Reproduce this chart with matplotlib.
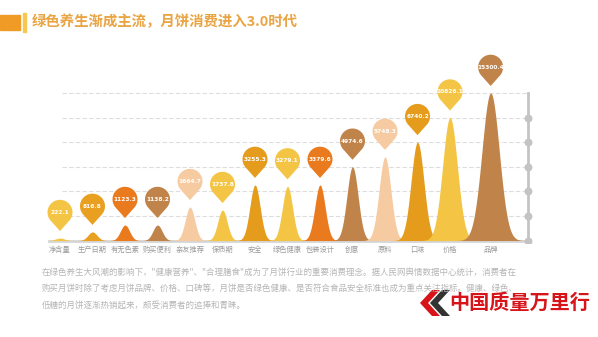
import numpy as np
import matplotlib
matplotlib.use('Agg')
import matplotlib.pyplot as plt
from matplotlib.patches import Polygon
from matplotlib import transforms

plt.rcParams['font.family'] = ['Noto Sans CJK SC', 'DejaVu Sans']

# ── Data ──────────────────────────────────────────────────────────────────────
categories = ['净含量', '生产日期', '有无色素', '购买便利', '亲友推荐', '保质期', '安全',
              '绿色健康', '包装设计', '创意', '原料', '口味', '价格', '品牌']
value_labels = ['222.1', '816.8', '1123.3', '1138.2', '1664.7', '1737.8', '3255.3',
                '3279.1', '3379.6', '4974.6', '5748.3', '6740.2', '10826.1', '15300.4']
# peak heights, in grid units (6 dashed grid steps)
peak_heights = [0.1, 0.35, 0.63, 0.63, 1.36, 1.24, 2.26, 2.2, 2.26, 3.0, 3.4, 4.0, 5.0, 6.0]
colors = ['#F4C545', '#E9A020', '#EA7A1E', '#C0844A', '#F6CBA2', '#F4C545', '#E59C1C',
          '#F4C545', '#EA7A1E', '#C0844A', '#F6CBA2', '#E59C1C', '#F4C545', '#C0844A']

TITLE = '绿色养生渐成主流，月饼消费进入3.0时代'
BODY = ['在绿色养生大风潮的影响下，"健康营养"、"合理膳食"成为了月饼行业的重要消费理念。据人民网舆情数据中心统计，消费者在',
        '购买月饼时除了考虑月饼品牌、价格、口碑等，月饼是否绿色健康、是否符合食品安全标准也成为重点关注指标。健康、绿色、',
        '低糖的月饼逐渐热销起来，颇受消费者的追捧和青睐。']

TITLE_COLOR = '#E9A443'
GRID_COLOR = '#DDDDDD'
AXIS_COLOR = '#C4C4C4'
LABEL_COLOR = '#9A9A9A'

fig = plt.figure(figsize=(5.98, 3.37), dpi=100)
fig.patch.set_facecolor('white')
ax = fig.add_axes([40 / 598, 1 - 243 / 337, 495 / 598, 198 / 337])
ax.set_xlim(-0.615, 14.615)
ax.set_ylim(-0.1, 7.95)
ax.axis('off')

n = len(categories)
x = np.arange(n, dtype=float)
x[-1] += 0.25  # last peak sits a bit further right

axis_x = 14.4

# grid lines + baseline
for g in range(1, 7):
    ax.plot([0.05, axis_x], [g, g], color=GRID_COLOR, lw=0.8, ls=(0, (4, 2)), zorder=1)
ax.plot([-0.35, axis_x], [0, 0], color='#D6D6D6', lw=2, zorder=1)

# right-hand axis with dots
ax.plot([axis_x, axis_x], [0, 6], color=AXIS_COLOR, lw=2, zorder=2)
ax.scatter([axis_x] * 6, range(6), s=22, color=AXIS_COLOR, zorder=3)

# peaks
for xi, h, c in zip(x, peak_heights, colors):
    sig = 0.14 + 0.0035 * h ** 2
    xs = np.linspace(xi - 1.2, xi + 1.2, 300)
    ys = h * np.exp(-0.5 * ((xs - xi) / sig) ** 2)
    ax.fill_between(xs, 0, ys, color=c, lw=0, zorder=4)

# pins (teardrop) above each peak, sized in inches
r = 0.125
gap = 0.07
d = 1.5 * r
phi = np.arccos(r / d)
cy = gap + d
arc = np.linspace(-np.pi / 2 + phi, 3 * np.pi / 2 - phi, 60)
pin = np.vstack([[0, gap], np.column_stack([r * np.cos(arc), cy + r * np.sin(arc)])])

for xi, h, c, lab in zip(x, peak_heights, colors, value_labels):
    tr = fig.dpi_scale_trans + transforms.ScaledTranslation(xi, h, ax.transData)
    ax.add_patch(Polygon(pin, closed=True, facecolor=c, edgecolor='none',
                         transform=tr, zorder=5, clip_on=False))
    ax.annotate(lab, (xi, h), xytext=(0, cy * 72), textcoords='offset points',
                ha='center', va='center', fontsize=4.2, color='white',
                fontweight='bold', zorder=6, family='DejaVu Sans')

# category labels
for xi, cat in zip(x, categories):
    ax.annotate(cat, (xi, 0), xytext=(0, -6.5), textcoords='offset points',
                ha='center', va='center', fontsize=5.2, color=LABEL_COLOR)

# ── Title block ──────────────────────────────────────────────────────────────
fig.patches.append(plt.Rectangle((0, 1 - 30 / 337), 20 / 598, 15 / 337,
                                 transform=fig.transFigure, color='#EF9B25'))
fig.patches.append(plt.Rectangle((23 / 598, 1 - 32 / 337), 2.5 / 598, 19 / 337,
                                 transform=fig.transFigure, color='#F6C94E'))
fig.text(32 / 598, 1 - 22 / 337, TITLE, fontsize=10.4, fontweight='bold',
         color=TITLE_COLOR, ha='left', va='center')

# ── Body text ───────────────────────────────────────────────────────────────
for k, line in enumerate(BODY):
    fig.text(42 / 598, 1 - (272 + 16.5 * k) / 337, line, fontsize=6.1,
             color='#B5B5B5', ha='left', va='center')

# ── Watermark logo ──────────────────────────────────────────────────────────
def chevron(x0, color):
    pts = np.array([[x0 + 14, 290], [x0 + 22, 290], [x0 + 10, 303],
                    [x0 + 22, 316], [x0 + 14, 316], [x0 + 2, 303]])
    pts = np.column_stack([pts[:, 0] / 598, 1 - pts[:, 1] / 337])
    fig.patches.append(Polygon(pts, closed=True, transform=fig.transFigure,
                               facecolor=color, edgecolor='none'))

chevron(418, '#D7141A')
chevron(428, '#333333')
fig.text(449 / 598, 1 - 302 / 337, '中国质量万里行', fontsize=14.5, fontweight='bold',
         color='#D7141A', ha='left', va='center')

fig.savefig('out.png', dpi=100)
